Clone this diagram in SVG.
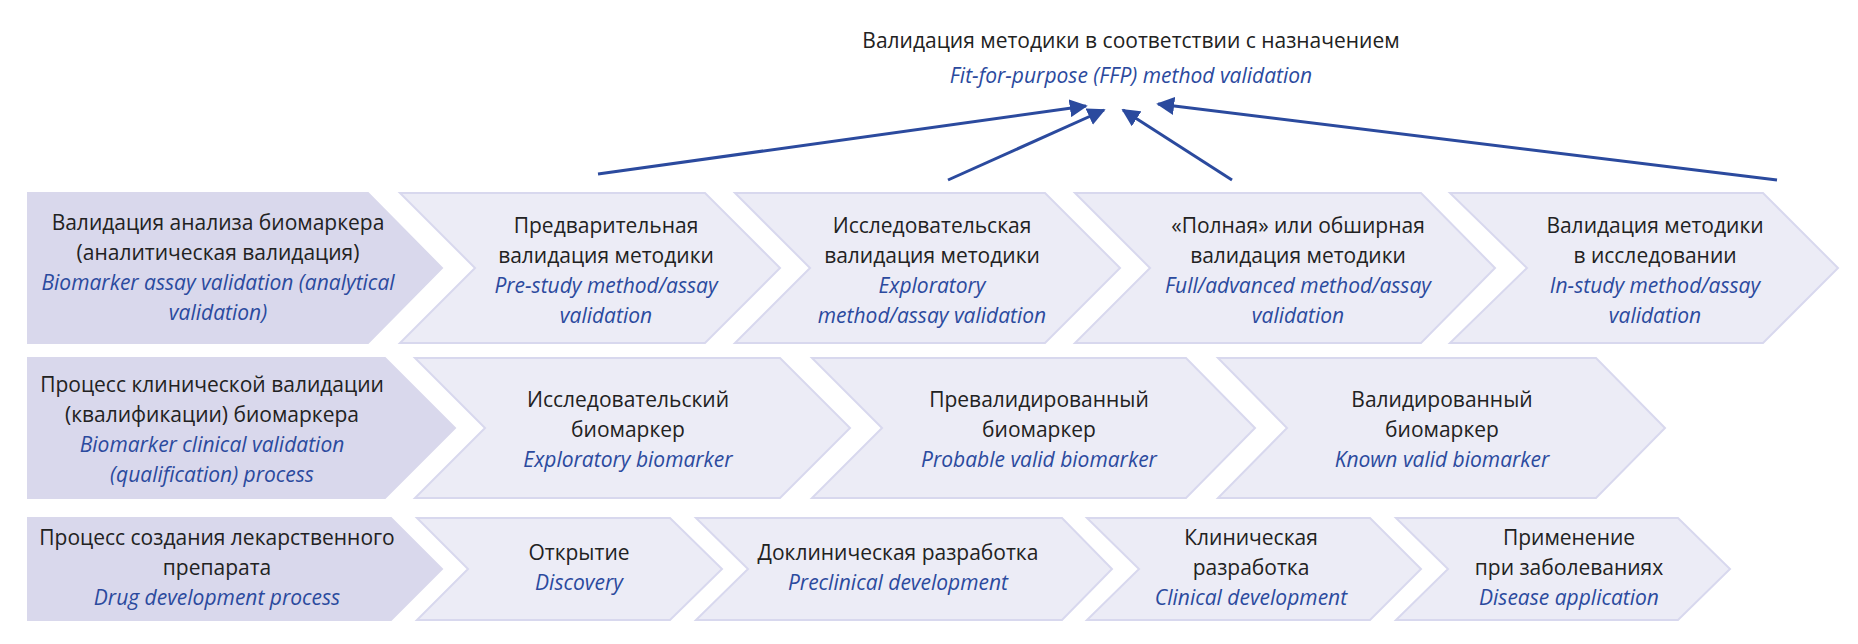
<svg xmlns="http://www.w3.org/2000/svg" width="1858" height="644" viewBox="0 0 1858 644">
<defs>
<style>
.h{fill:#d9d8ec;stroke:#d9d8ec;stroke-width:2}
.n{fill:#ececf6;stroke:#d8d8ee;stroke-width:2}
text{font-family:"Open Sans","Noto Sans",sans-serif;font-size:21px;text-anchor:middle;fill:#222}
.e{font-style:italic;fill:#2b4a9e}
.c{stroke:#2b4a9e;stroke-width:3;fill:none;marker-end:url(#ah)}
</style>
<marker id="ah" viewBox="0 0 10 10" refX="9" refY="5" markerWidth="6" markerHeight="6" orient="auto" markerUnits="strokeWidth"><path d="M0,0L10,5L0,10z" fill="#2b4a9e"/></marker>
</defs>
<rect width="1858" height="644" fill="#fff"/>
<g id="title">
<text x="1131" y="48">Валидация методики в соответствии с назначением</text>
<text class="e" x="1131" y="83">Fit-for-purpose (FFP) method validation</text>
</g>
<g id="connectors">
<line class="c" x1="598" y1="174" x2="1086" y2="106"/>
<line class="c" x1="948" y1="180" x2="1104" y2="110"/>
<line class="c" x1="1232" y1="180" x2="1123" y2="110"/>
<line class="c" x1="1777" y1="180" x2="1158" y2="104"/>
</g>
<g id="r1n0"><path class="h" d="M28,193H368L442,268L368,343H28Z"/>
<text x="218" y="230">Валидация анализа биомаркера</text><text x="218" y="260">(аналитическая валидация)</text>
<text class="e" x="218" y="290">Biomarker assay validation (analytical</text><text class="e" x="218" y="320">validation)</text></g>
<g id="r1n1"><path class="n" d="M400,193H705L780,268L705,343H400L475,268Z"/>
<text x="606" y="233">Предварительная</text><text x="606" y="263">валидация методики</text>
<text class="e" x="606" y="293">Pre-study method/assay</text><text class="e" x="606" y="323">validation</text></g>
<g id="r1n2"><path class="n" d="M735,193H1045L1120,268L1045,343H735L810,268Z"/>
<text x="932" y="233">Исследовательская</text><text x="932" y="263">валидация методики</text>
<text class="e" x="932" y="293">Exploratory</text><text class="e" x="932" y="323">method/assay validation</text></g>
<g id="r1n3"><path class="n" d="M1075,193H1421L1495,268L1421,343H1075L1150,268Z"/>
<text x="1298" y="233">«Полная» или обширная</text><text x="1298" y="263">валидация методики</text>
<text class="e" x="1298" y="293">Full/advanced method/assay</text><text class="e" x="1298" y="323">validation</text></g>
<g id="r1n4"><path class="n" d="M1450,193H1763L1838,268L1763,343H1450L1527,268Z"/>
<text x="1655" y="233">Валидация методики</text><text x="1655" y="263">в исследовании</text>
<text class="e" x="1655" y="293">In-study method/assay</text><text class="e" x="1655" y="323">validation</text></g>
<g id="r2n0"><path class="h" d="M28,358H385L455,428L385,498H28Z"/>
<text x="212" y="392">Процесс клинической валидации</text><text x="212" y="422">(квалификации) биомаркера</text>
<text class="e" x="212" y="452">Biomarker clinical validation</text><text class="e" x="212" y="482">(qualification) process</text></g>
<g id="r2n1"><path class="n" d="M415,358H780L850,428L780,498H415L485,428Z"/>
<text x="628" y="407">Исследовательский</text><text x="628" y="437">биомаркер</text>
<text class="e" x="628" y="467">Exploratory biomarker</text></g>
<g id="r2n2"><path class="n" d="M812,358H1186L1255,428L1186,498H812L882,428Z"/>
<text x="1039" y="407">Превалидированный</text><text x="1039" y="437">биомаркер</text>
<text class="e" x="1039" y="467">Probable valid biomarker</text></g>
<g id="r2n3"><path class="n" d="M1218,358H1596L1665,428L1596,498H1218L1287,428Z"/>
<text x="1442" y="407">Валидированный</text><text x="1442" y="437">биомаркер</text>
<text class="e" x="1442" y="467">Known valid biomarker</text></g>
<g id="r3n0"><path class="h" d="M28,518H391L442,569L391,620H28Z"/>
<text x="217" y="545">Процесс создания лекарственного</text><text x="217" y="575">препарата</text>
<text class="e" x="217" y="605">Drug development process</text></g>
<g id="r3n1"><path class="n" d="M417,518H670L722,569L670,620H417L468,569Z"/>
<text x="579" y="560">Открытие</text><text class="e" x="579" y="590">Discovery</text></g>
<g id="r3n2"><path class="n" d="M696,518H1062L1112,569L1062,620H696L748,569Z"/>
<text x="898" y="560">Доклиническая разработка</text><text class="e" x="898" y="590">Preclinical development</text></g>
<g id="r3n3"><path class="n" d="M1087,518H1370L1421,569L1370,620H1087L1139,569Z"/>
<text x="1251" y="545">Клиническая</text><text x="1251" y="575">разработка</text>
<text class="e" x="1251" y="605">Clinical development</text></g>
<g id="r3n4"><path class="n" d="M1396,518H1678L1730,569L1678,620H1396L1448,569Z"/>
<text x="1569" y="545">Применение</text><text x="1569" y="575">при заболеваниях</text>
<text class="e" x="1569" y="605">Disease application</text></g>
</svg>
